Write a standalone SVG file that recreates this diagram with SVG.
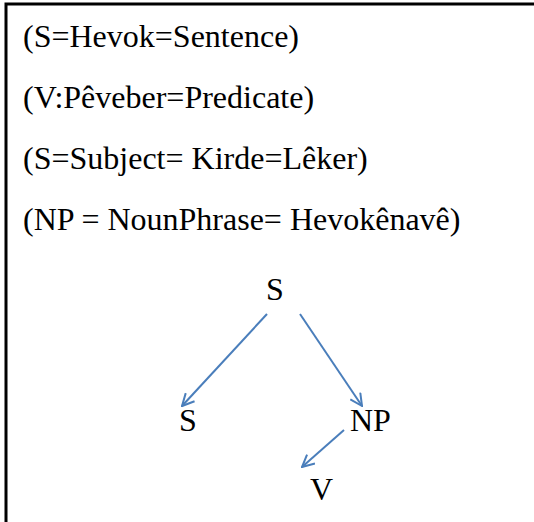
<svg xmlns="http://www.w3.org/2000/svg" width="534" height="522" viewBox="0 0 534 522">
  <style>
    .lbl { font-family: "Liberation Serif", "Times New Roman", serif; font-size: 32px; fill: #000; }
    .edge { stroke: #4a7ebb; stroke-width: 2; fill: none; }
    .frame { stroke: #000; stroke-width: 3; fill: none; }
  </style>
  <defs>
    <marker id="arrow" viewBox="0 0 14 14" refX="13" refY="7" markerWidth="14" markerHeight="14" markerUnits="userSpaceOnUse" orient="auto">
      <path d="M1,1 L13,7 L1,13" fill="none" stroke="#4a7ebb" stroke-width="2"/>
    </marker>
  </defs>
  <rect width="534" height="522" fill="#fff"/>
  <!-- open frame: top and left sides only -->
  <path class="frame" d="M6,522 V4 H534"/>

  <g id="legend">
    <text class="lbl" x="23" y="47">(S=Hevok=Sentence)</text>
    <text class="lbl" x="23" y="108">(V:Pêveber=Predicate)</text>
    <text class="lbl" x="23" y="169">(S=Subject= Kirde=Lêker)</text>
    <text class="lbl" x="23" y="230">(NP = NounPhrase= Hevokênavê)</text>
  </g>

  <g id="node-s-root"><text class="lbl" x="266" y="300">S</text></g>
  <g id="node-s-left"><text class="lbl" x="179" y="431">S</text></g>
  <g id="node-np"><text class="lbl" x="350" y="431">NP</text></g>
  <g id="node-v"><text class="lbl" x="310" y="500">V</text></g>

  <g id="connectors">
    <line class="edge" x1="267" y1="314" x2="182" y2="406" marker-end="url(#arrow)"/>
    <line class="edge" x1="300" y1="314" x2="362" y2="406" marker-end="url(#arrow)"/>
    <line class="edge" x1="344" y1="430" x2="302" y2="467" marker-end="url(#arrow)"/>
  </g>
</svg>
